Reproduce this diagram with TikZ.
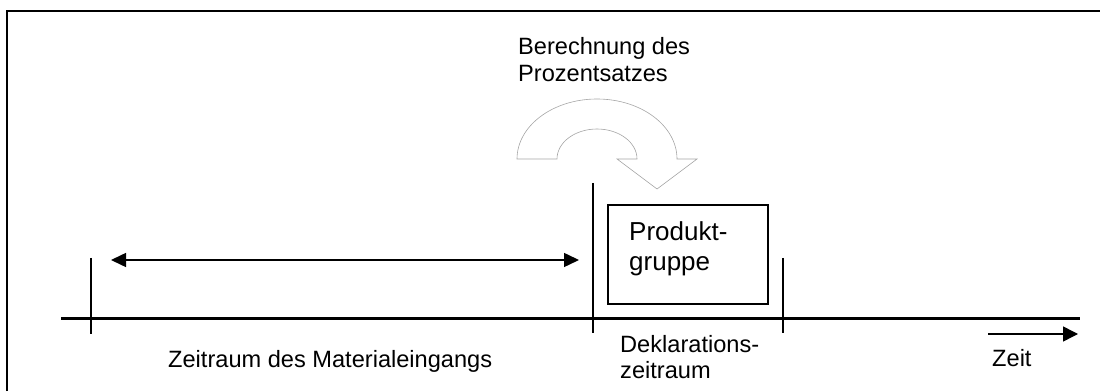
\documentclass[tikz,border=0pt]{standalone}
\usepackage{fontspec}
\setmainfont{Liberation Sans}
\usetikzlibrary{arrows.meta}

\tikzstyle{txt}=[inner sep=0pt,anchor=base west,align=left,font=\fontsize{23.6}{27}\selectfont]
\tikzstyle{bigtxt}=[txt,font=\fontsize{26}{30}\selectfont]
\tikzstyle{tickline}=[line width=1.6pt]
\tikzstyle{timeline}=[line width=3pt]
\tikzstyle{spanarrow}=[{Triangle[length=15pt,width=14pt]}-{Triangle[length=15pt,width=14pt]},line width=1.5pt]
\tikzstyle{timearrow}=[-{Triangle[length=15pt,width=15pt]},line width=1.5pt]
\tikzstyle{groupbox}=[draw,line width=1.5pt,minimum width=160pt,minimum height=99pt,inner sep=0pt]
\tikzstyle{turnarrow}=[draw=black!35,fill=white,line width=0.6pt]

\begin{document}
\begin{tikzpicture}[x=1pt,y=1pt]
\useasboundingbox (0,0) rectangle (1100,391);
% frame
\draw[line width=2pt] (7,0) -- (7,380) -- (1100,380);
% time axis
\coordinate (start) at (61,72);
\coordinate (end) at (1080,72);
\draw[timeline] (start) -- (end);
% ticks
\coordinate (t1top) at (91,133);
\coordinate (t1bot) at (91,57);
\coordinate (t2top) at (593,208);
\coordinate (t2bot) at (593,58);
\coordinate (t3top) at (783,133);
\coordinate (t3bot) at (783,58);
\draw[tickline] (t1top) -- (t1bot);
\draw[tickline] (t2top) -- (t2bot);
\draw[tickline] (t3top) -- (t3bot);
% material period
\coordinate (spanL) at (111,131);
\coordinate (spanR) at (579,131);
\draw[spanarrow] (spanL) -- (spanR);
\node[txt] (material) at (168,24) {Zeitraum des Materialeingangs};
% declaration period (multi-line nodes sit on their last baseline)
\node[groupbox] (group) at (688,136.5) {};
\node[bigtxt] (grouptext) at (629,120) {Produkt-\\gruppe};
\node[txt,font=\fontsize{23.6}{26}\selectfont] (decl) at (620,13) {Deklarations-\\zeitraum};
% calculation
\draw[turnarrow] (517,232) arc (180:0:80 and 60) -- (697,232) -- (657,202)
    -- (617,232) -- (637,232) arc (0:180:40 and 30) -- cycle;
\node[txt] (calc) at (518,309) {Berechnung des\\Prozentsatzes};
% time
\coordinate (zeitL) at (988,57);
\coordinate (zeitR) at (1078,57);
\draw[timearrow] (zeitL) -- (zeitR);
\node[txt] (zeit) at (992,25) {Zeit};
\end{tikzpicture}
\end{document}
